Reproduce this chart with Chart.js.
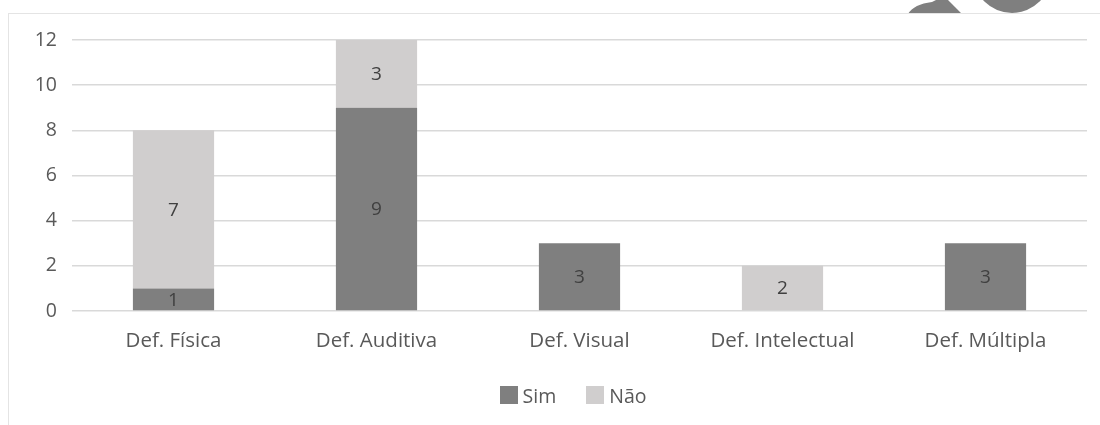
<!DOCTYPE html>
<html>
<head>
<meta charset="utf-8">
<script src="https://cdn.jsdelivr.net/npm/chart.js@4"></script>
<style>
  html, body { margin: 0; padding: 0; background: #fff; width: 1100px; height: 425px; overflow: hidden; }
  #frame { position: absolute; left: 8px; top: 13px; width: 1200px; height: 500px; border: 1.5px solid #e4e4e4; box-sizing: border-box; }
  #wrap { position: absolute; left: 0; top: 0; width: 1100px; height: 425px; }
  #deco { position: absolute; left: 0; top: 0; }
  #legend { position: absolute; left: 23px; top: 385px; width: 1100px; height: 20px; display: flex; justify-content: center; align-items: center; font-family: "Open Sans", sans-serif; font-size: 19.5px; color: #595959; }
  #legend span.item { display: flex; align-items: center; margin: 0 15px; }
  #legend span.box { display: inline-block; width: 18px; height: 18px; margin-right: 5px; }
</style>
</head>
<body>
<svg id="deco" width="1100" height="20">
  <circle cx="1012" cy="-26" r="39" fill="#7f7f7f"/>
  <path d="M908 14 Q914 4 932 2 L944 -4 L962 14 Z" fill="#7f7f7f"/>
</svg>
<div id="frame"></div>
<div id="wrap"><canvas id="c" width="1100" height="425"></canvas></div>
<div id="legend"></div>
<script>
const categories = ["Def. Física", "Def. Auditiva", "Def. Visual", "Def. Intelectual", "Def. Múltipla"];
const simValues = [1, 9, 3, null, 3];
const naoValues = [7, 3, null, 2, null];
const yTicks = [0, 2, 4, 6, 8, 10, 12];

const FONT = "'Open Sans', sans-serif";

const labelPlugin = {
  id: 'barLabels',
  afterDatasetsDraw(chart) {
    const ctx = chart.ctx;
    ctx.save();
    ctx.font = "19px " + FONT;
    ctx.fillStyle = "#404040";
    ctx.textAlign = "center";
    ctx.textBaseline = "middle";
    chart.data.datasets.forEach((ds, i) => {
      const meta = chart.getDatasetMeta(i);
      meta.data.forEach((bar, j) => {
        const v = ds.data[j];
        if (v === null || v === 0) return;
        const p = bar.getProps(['x', 'y', 'base'], true);
        ctx.fillText(String(v), p.x, (p.y + p.base) / 2 + 1);
      });
    });
    ctx.restore();
  }
};

const chart = new Chart(document.getElementById('c'), {
  type: 'bar',
  data: {
    labels: categories,
    datasets: [
      { label: 'Sim', data: simValues, backgroundColor: '#7f7f7f', borderWidth: 0, categoryPercentage: 1.0, barPercentage: 0.4 },
      { label: 'Não', data: naoValues, backgroundColor: '#d0cece', borderWidth: 0, categoryPercentage: 1.0, barPercentage: 0.4 }
    ]
  },
  options: {
    responsive: false,
    animation: false,
    devicePixelRatio: 1,
    layout: { padding: { left: 0, right: 13, top: 40, bottom: 64 } },
    plugins: { legend: { display: false }, tooltip: { enabled: false } },
    scales: {
      x: {
        stacked: true,
        grid: { display: false, drawTicks: false },
        border: { display: false },
        ticks: { color: '#595959', font: { family: FONT, size: 20.5 }, padding: 18 },
        afterFit(s) { s.height = 50; }
      },
      y: {
        stacked: true,
        min: 0,
        max: 12,
        afterBuildTicks(s) { s.ticks = yTicks.map(v => ({ value: v })); },
        grid: { color: '#d9d9d9', lineWidth: 1.5, drawTicks: false },
        border: { display: false },
        ticks: { color: '#595959', font: { family: FONT, size: 19.5 }, padding: 15 },
        afterFit(s) { s.width = 72; }
      }
    }
  },
  plugins: [labelPlugin]
});

const legend = document.getElementById('legend');
chart.data.datasets.forEach(ds => {
  const item = document.createElement('span');
  item.className = 'item';
  const box = document.createElement('span');
  box.className = 'box';
  box.style.background = ds.backgroundColor;
  item.appendChild(box);
  item.appendChild(document.createTextNode(ds.label));
  legend.appendChild(item);
});
</script>
</body>
</html>
